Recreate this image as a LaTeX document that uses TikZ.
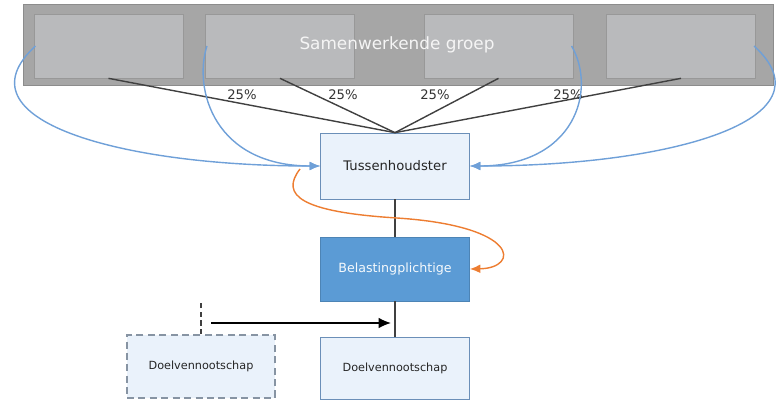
\documentclass[tikz,border=0pt]{standalone}
\usepackage{fontspec}
\setmainfont{DejaVu Sans}
\usepackage{xcolor}
\usetikzlibrary{positioning,calc,arrows.meta}

\definecolor{groupfill}{HTML}{A6A6A6}
\definecolor{groupline}{HTML}{8C8C8C}
\definecolor{memberfill}{HTML}{B9BABC}
\definecolor{memberline}{HTML}{989898}
\definecolor{lightfill}{HTML}{EAF2FB}
\definecolor{boxline}{HTML}{6B8FB8}
\definecolor{dashline}{HTML}{8794A3}
\definecolor{darkfill}{HTML}{5B9BD5}
\definecolor{curveblue}{HTML}{6FA0D8}
\definecolor{curveorange}{HTML}{ED7D31}
\definecolor{linkgray}{HTML}{404040}

\tikzset{
    member/.style={draw=memberline, fill=memberfill, minimum width=2.98cm, minimum height=1.28cm},
    entity/.style={draw=boxline, fill=lightfill, minimum width=2.98cm, minimum height=1.28cm, text=black!85, font=\fontsize{7.5}{9}\selectfont},
    share/.style={draw=linkgray, thick},
    pct/.style={font=\fontsize{7.5}{9}\selectfont, text=black!80},
    flow/.style={draw=curveblue, thick, -{Latex[length=6pt,width=5pt]}}
}

\begin{document}
\begin{tikzpicture}[x=0.02cm, y=-0.02cm]
    \useasboundingbox (0,0) rectangle (776,399);
    \clip (0,0) rectangle (776,399);

    % Samenwerkende groep
    \node [draw=groupline, fill=groupfill, minimum width=15cm, minimum height=1.62cm] (group) at (398,44.5) {};
    \foreach \n/\x in {1/108.5, 2/280, 3/498.5, 4/681} {
        \node [member] (m\n) at (\x,46) {};
    }
    \node [font=\fontsize{9.6}{11}\selectfont, text=white!92!gray] (grouplabel) at (397,45) {Samenwerkende groep};

    % Entities
    \node [entity, minimum height=1.32cm] (tussen) at (395,166) {Tussenhoudster};
    \node [entity, fill=darkfill, draw=darkfill!85!black, text=white!94!darkfill, font=\fontsize{7.2}{9}\selectfont] (belast) at (395,269) {Belastingplichtige};
    \node [entity, minimum height=1.24cm, font=\fontsize{6.4}{8}\selectfont] (doelR) at (395,368) {Doelvennootschap};
    \node [entity, draw=dashline, semithick, dash pattern=on 4pt off 2.5pt, minimum width=2.96cm, minimum height=1.26cm, font=\fontsize{6.4}{8}\selectfont] (doelL) at (201,366.5) {Doelvennootschap};

    % Shareholdings
    \foreach \n in {1,...,4} {
        \draw [share] (m\n.south) -- (tussen.north);
    }
    \foreach \x in {242, 343, 435, 568} {
        \node [pct] at (\x,95) {25\%};
    }
    \draw [share] (tussen.south) -- (belast.north);
    \draw [share] (belast.south) -- (doelR.north);

    % Blue flows
    \draw [flow] ([xshift=1pt]m1.west) .. controls (-45,120) and (120,166) .. (tussen.west);
    \draw [flow] ([xshift=1pt]m2.west) .. controls (193,90) and (215,166) .. (tussen.west);
    \draw [flow] ([xshift=-1pt]m3.east) .. controls (597,90) and (575,166) .. (tussen.east);
    \draw [flow] ([xshift=-1pt]m4.east) .. controls (835,120) and (670,166) .. (tussen.east);

    % Orange flow
    \coordinate (ostart) at (300,169);
    \coordinate (omid) at (397,218);
    \draw [curveorange, thick, -{Latex[length=6pt,width=5pt]}] (ostart) .. controls (280,195) and (300,212) .. (omid) .. controls (520,226) and (520,268) .. (belast.east);

    % Acquisition
    \coordinate (dtop) at ($(doelL.north)+(0,-34)$);
    \coordinate (astart) at (211,323);
    \coordinate (aend) at ($(belast.south |- astart)+(-4,0)$);
    \draw [thick, dash pattern=on 3pt off 2pt, linkgray] (doelL.north) -- (dtop);
    \draw [thick, -{Latex[length=7pt,width=6pt]}] (astart) -- (aend);
\end{tikzpicture}
\end{document}
